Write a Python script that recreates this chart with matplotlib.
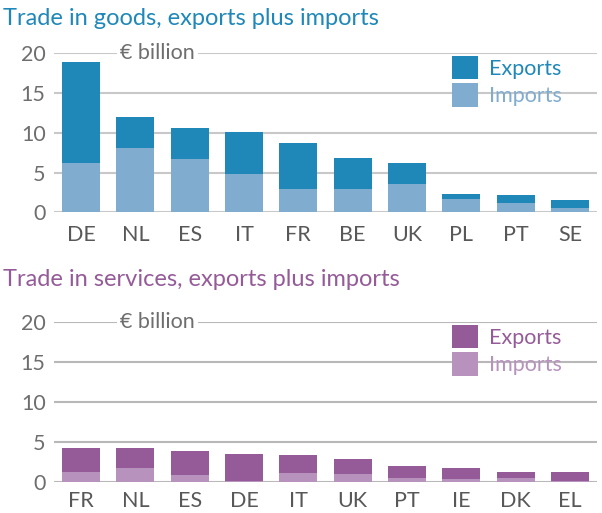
import matplotlib.pyplot as plt

# goods, € billion
goods_countries = ['DE', 'NL', 'ES', 'IT', 'FR', 'BE', 'UK', 'PL', 'PT', 'SE']
goods_imports = [6.2, 8.1, 6.75, 4.85, 2.95, 2.95, 3.6, 1.67, 1.17, 0.54]
goods_exports = [12.7, 3.9, 3.9, 5.3, 5.8, 3.85, 2.6, 0.63, 1.03, 1.01]

# services, € billion
serv_countries = ['FR', 'NL', 'ES', 'DE', 'IT', 'UK', 'PT', 'IE', 'DK', 'EL']
serv_imports = [1.2, 1.7, 0.85, 0.03, 1.12, 0.97, 0.46, 0.34, 0.46, 0.12]
serv_exports = [3.0, 2.5, 3.0, 3.47, 2.23, 1.88, 1.51, 1.38, 0.76, 1.10]

yticks = [0, 5, 10, 15, 20]

plt.rcParams['font.family'] = ['Lato', 'DejaVu Sans']

W, H = 602, 513
fig = plt.figure(figsize=(W / 100, H / 100), dpi=100)
fs = 15.5


def panel(rect, countries, imports, exports, c_exp, c_imp, title, title_y, grid_col, xpad):
    ax = fig.add_axes(rect)
    x = range(len(countries))
    ax.bar(x, imports, width=0.7, color=c_imp, label='Imports', zorder=3)
    ax.bar(x, exports, width=0.7, bottom=imports, color=c_exp, label='Exports', zorder=3)
    ax.set_xlim(-0.5, len(countries) - 0.5)
    ax.set_ylim(0, 20)
    ax.set_yticks(yticks)
    ax.set_xticks(list(x))
    ax.set_xticklabels(countries)
    ax.tick_params(axis='y', length=0, pad=6, labelsize=fs, labelcolor='#6e6e6e')
    ax.tick_params(axis='x', length=0, pad=xpad, labelsize=fs, labelcolor='#585858')
    ax.grid(axis='y', color=grid_col, linewidth=1.5, zorder=0)
    for s in ax.spines.values():
        s.set_visible(False)
    ax.text(0.72, 20, '€ billion', fontsize=fs, color='#6e6e6e', va='center', ha='left',
            bbox=dict(facecolor='white', edgecolor='none', pad=2), zorder=4)
    h, l = ax.get_legend_handles_labels()
    ax.legend([h[1], h[0]], [l[1], l[0]], loc='upper left', bbox_to_anchor=(0.733, 0.985),
              frameon=False, fontsize=fs, labelcolor=[c_exp, c_imp], borderpad=0,
              handlelength=1.2, handleheight=1.3, handletextpad=0.5, labelspacing=0.2,
              borderaxespad=0)
    fig.text(3 / W, title_y, title, fontsize=17, color=c_exp, ha='left', va='baseline')
    return ax


panel([54 / W, (H - 212.3) / H, 543 / W, 159 / H], goods_countries, goods_imports, goods_exports,
      '#1f88b9', '#80acd0', 'Trade in goods, exports plus imports', (H - 25) / H, '#c8c8c8', 9.5)
panel([54 / W, (H - 481.7) / H, 543 / W, 159.4 / H], serv_countries, serv_imports, serv_exports,
      '#955b99', '#b792bd', 'Trade in services, exports plus imports', (H - 286) / H, '#b8b8b8', 6.5)

fig.savefig('out.png', dpi=100)
